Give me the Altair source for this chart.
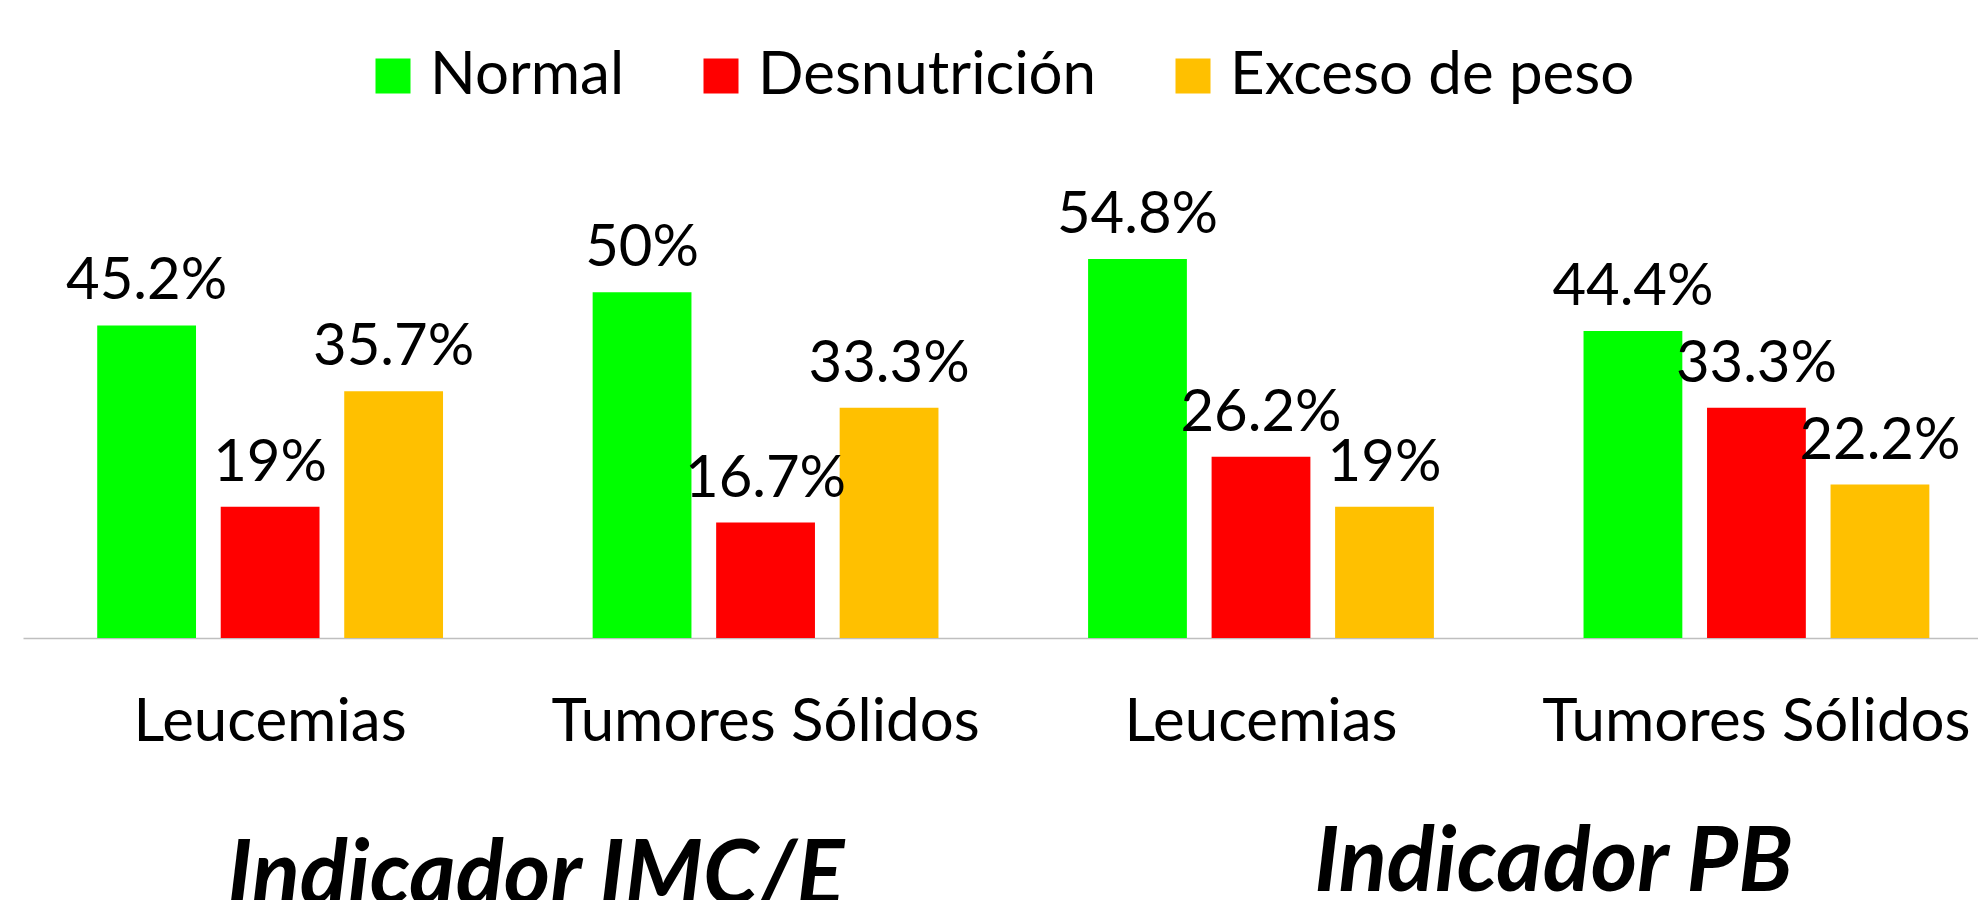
import altair as alt
import pandas as pd

# ---- data ----
groups = ["Leucemias", "Tumores Sólidos", "Leucemias", "Tumores Sólidos"]
indicators = ["Indicador IMC/E", "Indicador IMC/E", "Indicador PB", "Indicador PB"]
series = ["Normal", "Desnutrición", "Exceso de peso"]
normal = [45.2, 50.0, 54.8, 44.4]
desnutricion = [19.0, 16.7, 26.2, 33.3]
exceso = [35.7, 33.3, 19.0, 22.2]
colors = ["#00FF00", "#FF0000", "#FFC000"]

values_by_series = {"Normal": normal, "Desnutrición": desnutricion, "Exceso de peso": exceso}
keys = [f"{ind}|{g}" for ind, g in zip(indicators, groups)]

rows = []
for s in series:
    for k, v in zip(keys, values_by_series[s]):
        rows.append({"key": k, "serie": s, "valor": v, "etiqueta": f"{v:g}%"})
df = pd.DataFrame(rows)

FONT = "Lato"

x_scale = alt.Scale(paddingInner=0.302, paddingOuter=0.124, align=0.604)
x_enc = alt.X(
    "key:N",
    sort=keys,
    scale=x_scale,
    title=None,
    axis=alt.Axis(
        labelExpr="split(datum.label, '|')[1]",
        labelFont=FONT,
        labelFontSize=60,
        labelColor="#000000",
        labelPadding=55,
        labelLimit=1000,
        labelAngle=0,
        ticks=False,
        tickSize=0,
        domainColor="#BFBFBF",
        domainWidth=1.5,
        grid=False,
    ),
)
xoff = alt.XOffset("serie:N", sort=series, scale=alt.Scale(paddingInner=0.2, paddingOuter=0))
y_enc = alt.Y("valor:Q", scale=alt.Scale(domain=[0, 70], nice=False), axis=None)

bars = alt.Chart(df).mark_bar().encode(
    x=x_enc,
    xOffset=xoff,
    y=y_enc,
    color=alt.Color(
        "serie:N",
        sort=series,
        scale=alt.Scale(domain=series, range=colors),
        legend=alt.Legend(
            title=None,
            orient="none",
            direction="horizontal",
            legendX=340,
            legendY=-108,
            labelFont=FONT,
            labelFontSize=60,
            labelColor="#000000",
            labelLimit=1000,
            labelOffset=7,
            columnPadding=66,
            symbolType="square",
            symbolSize=1225,
            symbolStrokeWidth=0,
            symbolOpacity=1,
        ),
    ),
)

labels = alt.Chart(df).mark_text(
    font=FONT, fontSize=58, color="#000000", baseline="alphabetic", align="center", dy=-26
).encode(
    x=alt.X("key:N", sort=keys),
    xOffset=alt.XOffset("serie:N", sort=series),
    y=alt.Y("valor:Q"),
    text="etiqueta:N",
)

ind_df = pd.DataFrame({"key": [keys[1], keys[3]], "texto": [indicators[1], indicators[3]]})

ind1 = alt.Chart(ind_df.iloc[[0]]).mark_text(
    font=FONT, fontSize=89, fontWeight="bold", fontStyle="italic", color="#000000",
    align="center", baseline="alphabetic", dx=-57,
).encode(
    x=alt.X("key:N", sort=keys, bandPosition=0),
    y=alt.value(750),
    text="texto:N",
)
ind2 = alt.Chart(ind_df.iloc[[1]]).mark_text(
    font=FONT, fontSize=89, fontWeight="bold", fontStyle="italic", color="#000000",
    align="center", baseline="alphabetic", dx=-30,
).encode(
    x=alt.X("key:N", sort=keys, bandPosition=0),
    y=alt.value(737),
    text="texto:N",
)

chart = (
    alt.layer(bars, labels, ind1, ind2)
    .properties(
        width=1955,
        height=484,
        autosize=alt.AutoSizeParams(type="none"),
        padding={"left": 15, "top": 146, "right": 0, "bottom": 262},
        background="#FFFFFF",
    )
    .configure_view(stroke=None)
)

chart.save("out.html", embed_options={"renderer": "svg", "actions": False})
